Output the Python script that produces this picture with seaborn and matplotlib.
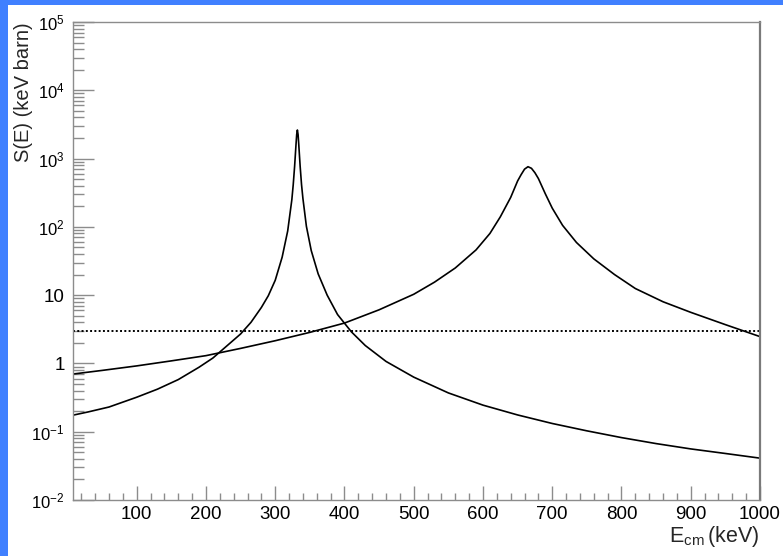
import matplotlib
matplotlib.use("Agg")
import matplotlib.pyplot as plt
from matplotlib.patches import Rectangle
from matplotlib.ticker import FixedLocator, LogLocator, NullFormatter, MultipleLocator
import seaborn as sns
import pandas as pd

# Narrow resonance near 332 keV (energies in keV, S-factor in keV barn)
narrow_e = [8, 8.3, 30, 60, 100, 130, 160, 190, 210, 230, 250, 265, 280, 290, 300,
            310, 318, 324, 326, 328, 330, 331, 332, 333, 334, 336, 338, 340, 345,
            352, 362, 375, 390, 410, 430, 460, 500, 550, 600, 650, 700, 750, 800,
            850, 900, 950, 1000]
narrow_s = [0.13, 0.175, 0.195, 0.23, 0.32, 0.42, 0.58, 0.88, 1.2, 1.8, 2.7, 4.0, 6.6,
            9.8, 16.5, 36, 87, 250, 415, 770, 1600, 2250, 2620, 2250, 1600, 770, 415,
            260, 102, 45, 20.5, 10.0, 5.2, 2.9, 1.83, 1.07, 0.63, 0.37, 0.245, 0.176,
            0.132, 0.103, 0.082, 0.067, 0.056, 0.048, 0.041]

# Broad resonance near 665 keV
broad_e = [8, 8.3, 50, 100, 150, 200, 250, 300, 350, 400, 450, 500, 530, 560, 590,
           610, 625, 640, 650, 655, 660, 665, 670, 675, 680, 690, 700, 715, 735, 760,
           790, 820, 860, 900, 950, 1000]
broad_s = [0.66, 0.70, 0.79, 0.92, 1.09, 1.3, 1.66, 2.15, 2.85, 3.9, 6.1, 10.3, 15.5,
           25, 46, 80, 140, 270, 470, 580, 700, 760, 720, 620, 510, 305, 188, 105,
           59, 34, 20, 12.5, 8.0, 5.6, 3.7, 2.47]

# Constant reference level
const_e = [8, 1000]
const_s = [3.0, 3.0]

x_ticks = [100, 200, 300, 400, 500, 600, 700, 800, 900, 1000]
x_tick_labels = ["100", "200", "300", "400", "500", "600", "700", "800", "900", "1000"]
y_ticks = [1e-2, 1e-1, 1, 10, 1e2, 1e3, 1e4, 1e5]
y_tick_labels = [r"$\mathregular{10^{-2}}$", r"$\mathregular{10^{-1}}$", "1", "10",
                 r"$\mathregular{10^{2}}$", r"$\mathregular{10^{3}}$",
                 r"$\mathregular{10^{4}}$", r"$\mathregular{10^{5}}$"]

sns.set_style("white")
plt.rcParams["font.family"] = ["Liberation Sans", "DejaVu Sans"]
plt.rcParams["mathtext.fontset"] = "custom"
plt.rcParams["mathtext.rm"] = "Liberation Sans"

fig = plt.figure(figsize=(7.83, 5.56), dpi=100)
fig.patch.set_facecolor("white")
# blue frame strips along the left and top of the canvas
fig.patches.append(Rectangle((0, 0), 8 / 783, 1, transform=fig.transFigure,
                             facecolor="#4080ff", edgecolor="none", zorder=0))
fig.patches.append(Rectangle((0, 1 - 5 / 556), 1, 5 / 556, transform=fig.transFigure,
                             facecolor="#4080ff", edgecolor="none", zorder=0))

ax = fig.add_axes([73 / 783, 56 / 556, 687 / 783, 478 / 556])

df_n = pd.DataFrame({"E": narrow_e, "S": narrow_s})
df_b = pd.DataFrame({"E": broad_e, "S": broad_s})
df_c = pd.DataFrame({"E": const_e, "S": const_s})

sns.lineplot(data=df_n, x="E", y="S", ax=ax, color="black", lw=1.2,
             estimator=None, sort=False)
sns.lineplot(data=df_b, x="E", y="S", ax=ax, color="black", lw=1.2,
             estimator=None, sort=False)
sns.lineplot(data=df_c, x="E", y="S", ax=ax, color="black", lw=1.4,
             linestyle=(0, (1, 1.2)), estimator=None, sort=False)

ax.set_yscale("log")
ax.set_xlim(8, 1000)
ax.set_ylim(1e-2, 1e5)

ax.xaxis.set_major_locator(FixedLocator(x_ticks))
ax.set_xticklabels(x_tick_labels)
ax.xaxis.set_minor_locator(MultipleLocator(20))
ax.yaxis.set_major_locator(FixedLocator(y_ticks))
ax.set_yticklabels(y_tick_labels)
ax.yaxis.set_minor_locator(LogLocator(base=10, subs=range(2, 10), numticks=50))
ax.yaxis.set_minor_formatter(NullFormatter())

tick_gray = "#8c8c8c"
ax.tick_params(axis="both", which="both", direction="in", colors=tick_gray,
               labelcolor="black", labelsize=13.5, width=1.0,
               left=True, bottom=True, top=False, right=False)
ax.tick_params(axis="y", which="major", length=15, pad=6)
ax.tick_params(axis="y", which="minor", length=8)
ax.tick_params(axis="x", which="major", length=10, pad=4)
ax.tick_params(axis="x", which="minor", length=5)

# power-of-ten labels are set a little smaller than the plain numbers
for lbl in ax.get_yticklabels():
    if "^" in lbl.get_text():
        lbl.set_fontsize(12)

for side in ["left", "bottom", "top"]:
    ax.spines[side].set_color(tick_gray)
    ax.spines[side].set_linewidth(1.0)
ax.spines["right"].set_color("#7a7a7a")
ax.spines["right"].set_linewidth(1.6)

ax.set_xlabel(r"$\mathregular{E_{cm}\,(keV)}$", fontsize=15.5, loc="right")
ax.xaxis.set_label_coords(1.0, -0.05)
ax.xaxis.label.set_va("top")
ax.set_ylabel("S(E) (keV barn)", fontsize=14.5, loc="top")
ax.yaxis.set_label_coords(-0.058, 1.0)

fig.savefig("out.png", dpi=100, facecolor="white")
